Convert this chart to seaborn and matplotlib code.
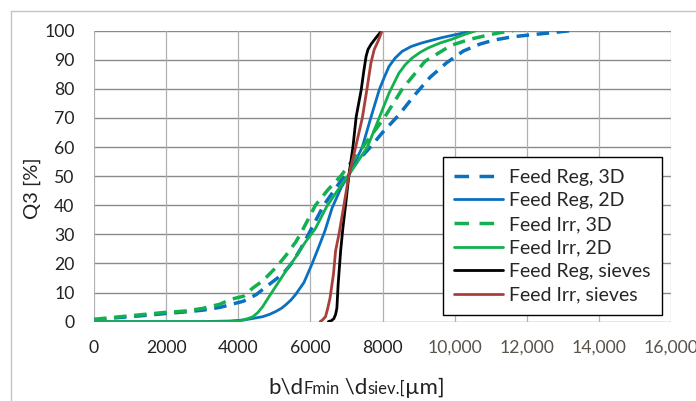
import matplotlib
matplotlib.use("Agg")
import matplotlib.pyplot as plt
import seaborn as sns
import pandas as pd
from matplotlib.lines import Line2D

# ---------------- data ----------------
reg3d_x = [0, 500, 1000, 1500, 2000, 2500, 3000, 3500, 3770, 4140, 4500, 4860, 5230,
           5500, 5730, 5955, 6370, 6880, 7300, 7700, 8000, 8450, 8900, 9320, 9780,
           10240, 10700, 11100, 11600, 12280, 12700, 13200]
reg3d_y = [0.5, 1.2, 1.7, 2.2, 2.8, 3.3, 3.9, 4.9, 5.8, 7.0, 9.3, 12.8, 16.3,
           20.3, 25, 30.2, 40, 49, 55, 60.5, 65, 71, 78, 84, 89,
           93, 95.4, 96.8, 97.9, 98.8, 99.3, 100]

reg2d_x = [0, 3000, 3770, 4100, 4320, 4500, 4680, 4870, 5045, 5200, 5320, 5460, 5590,
           5820, 6045, 6230, 6410, 6600, 6850, 7070, 7440, 7674, 7910, 8050, 8180,
           8350, 8545, 8800, 9090, 9640, 10270, 10545]
reg2d_y = [0, 0, 0.2, 0.5, 0.9, 1.3, 1.7, 2.5, 3.5, 4.6, 5.8, 7.4, 9.3,
           13.4, 19.8, 25.6, 31.4, 39, 46, 50.5, 60, 70, 79.7, 84, 87.7,
           90.6, 92.9, 94.6, 95.8, 97.6, 99.3, 100]

irr3d_x = [0, 500, 1000, 1500, 2000, 2500, 3000, 3500, 3770, 4140, 4410, 4680, 5045,
           5320, 5590, 5730, 6140, 6500, 6840, 7450, 8046, 8545, 9180, 9910, 10410,
           10820, 11200, 11620]
irr3d_y = [0.8, 1.4, 2.0, 2.6, 3.2, 3.6, 4.5, 6.0, 7.6, 8.7, 11.6, 14, 18.6,
           22.7, 27.3, 30.2, 40, 45.5, 50, 60, 70, 79.9, 89.5, 95, 97,
           98.2, 99.2, 100]

irr2d_x = [0, 3000, 3770, 4000, 4140, 4280, 4410, 4550, 4680, 4860, 5045, 5320, 5590,
           5860, 6140, 6450, 6750, 7070, 7581, 7907, 8180, 8455, 8630, 8820, 9050,
           9270, 9600, 9910, 10250, 10590]
irr2d_y = [0, 0, 0, 0.2, 0.6, 1.1, 1.7, 3.2, 5.2, 8.7, 12.2, 17.4, 22.1,
           27.3, 32, 39.5, 45, 50.5, 60, 70, 78.5, 85.4, 88.3, 90.6, 92.6,
           94.1, 95.8, 97, 98.6, 100]

regsv_x = [6500, 6580, 6650, 6700, 6735, 6770, 6840, 6900, 6976, 7070, 7180, 7270,
           7410, 7480, 7545, 7600, 7680, 7820, 7980]
regsv_y = [0, 0.3, 1, 2.5, 4.6, 12.8, 24.4, 32, 40, 50.5, 60, 70.4,
           79.7, 86, 91.2, 93.6, 95.3, 97.6, 100]

irrsv_x = [6270, 6330, 6420, 6480, 6545, 6640, 6700, 6800, 6930, 7070, 7256, 7440,
           7570, 7680, 7770, 7880, 7990]
irrsv_y = [0, 0.5, 1.7, 4.5, 8.1, 16.3, 24.4, 30.5, 40, 50.5, 60, 70,
           80, 89, 93.5, 96.5, 100]

labels = ["Feed Reg, 3D", "Feed Reg, 2D", "Feed Irr, 3D", "Feed Irr, 2D",
          "Feed Reg, sieves", "Feed Irr, sieves"]

xticks = [0, 2000, 4000, 6000, 8000, 10000, 12000, 14000, 16000]
xtick_labels = ["0", "2000", "4000", "6000", "8000", "10,000", "12,000", "14,000", "16,000"]
yticks = [0, 10, 20, 30, 40, 50, 60, 70, 80, 90, 100]

# ---------------- style ----------------
sns.set_style("white")
plt.rcParams['font.family'] = ['Lato', 'DejaVu Sans']

BLUE = "#0a70c0"
GREEN = "#12b04e"
BLACK = "#000000"
RED = "#a8403a"

series = [
    (reg3d_x, reg3d_y, BLUE, True, 2.5),
    (reg2d_x, reg2d_y, BLUE, False, 2.0),
    (irr3d_x, irr3d_y, GREEN, True, 2.5),
    (irr2d_x, irr2d_y, GREEN, False, 2.0),
    (regsv_x, regsv_y, BLACK, False, 2.0),
    (irrsv_x, irrsv_y, RED, False, 2.0),
]

W, H = 696, 401
fig = plt.figure(figsize=(W / 100, H / 100), dpi=100)
ax = fig.add_axes([94 / W, 1 - 321.6 / H, (671 - 94) / W, (321.6 - 30.7) / H])

handles = []
for (xs, ys, col, dashed, lw), lab in zip(series, labels):
    df = pd.DataFrame({"x": xs, "y": ys})
    sns.lineplot(data=df, x="x", y="y", ax=ax, sort=False, estimator=None,
                 color=col, linewidth=lw, zorder=3)
    ln = ax.get_lines()[-1]
    ln.set_solid_joinstyle("round")
    ln.set_dash_joinstyle("round")
    if dashed:
        ln.set_dashes((3.6, 2.2))
    h = Line2D([], [], color=col, linewidth=lw)
    if dashed:
        h.set_dashes((4.2, 3.0))
    handles.append(h)

ax.set_xlim(0, 16000)
ax.set_ylim(0, 100)
ax.set_xticks(xticks)
ax.set_xticklabels(xtick_labels)
ax.set_yticks(yticks)

ax.grid(False)
for t in yticks:
    ax.axhline(t, color="#8a8a8a", linewidth=1.0, zorder=1)
for t in xticks:
    ax.axvline(t, color="#b0b0b0", linewidth=0.9, zorder=1)
for s in ax.spines.values():
    s.set_visible(False)

ax.tick_params(axis="both", length=0, labelsize=12.7)
ax.tick_params(axis="y", pad=14, labelcolor="#222222")
ax.tick_params(axis="x", pad=13)
for i, lab in enumerate(ax.get_xticklabels()):
    lab.set_color("#222222" if i < 5 else "#5b5249")

ax.set_xlabel("")
ax.set_ylabel("")

leg = fig.legend(handles, labels, loc="upper right",
                 bbox_to_anchor=(662 / W, 1 - 157 / H),
                 bbox_transform=fig.transFigure,
                 fontsize=14, frameon=True, fancybox=False, framealpha=1,
                 edgecolor="#000000", borderaxespad=0, borderpad=0.6,
                 handlelength=2.5, handletextpad=0.3, labelspacing=0.34)
leg.get_frame().set_linewidth(1.0)

# y label
fig.text(32 / W, 1 - 188 / H, "Q3 [%]", rotation=90, ha="center", va="center",
         fontsize=14.5, color="#222222")

# x label with small-text parts
fig.canvas.draw()
renderer = fig.canvas.get_renderer()
parts = [("b\\d", 16), ("Fmin", 12), (" \\d", 16), ("siev.[", 12), ("\u00b5m]", 16)]
xpos = 268
ybase = 1 - 394 / H
for txt, fs in parts:
    t = fig.text(xpos / W, ybase, txt, fontsize=fs, ha="left", va="baseline",
                 color="#222222")
    bb = t.get_window_extent(renderer=renderer)
    xpos += bb.width

# outer chart border (cropped at right and bottom)
fig.add_artist(Line2D([11 / W, 11 / W], [0, 1 - 10.5 / H], transform=fig.transFigure,
                      color="#c4c4c4", linewidth=1.0))
fig.add_artist(Line2D([11 / W, 1], [1 - 10.5 / H, 1 - 10.5 / H], transform=fig.transFigure,
                      color="#c4c4c4", linewidth=1.0))

fig.savefig("out.png", dpi=100)
